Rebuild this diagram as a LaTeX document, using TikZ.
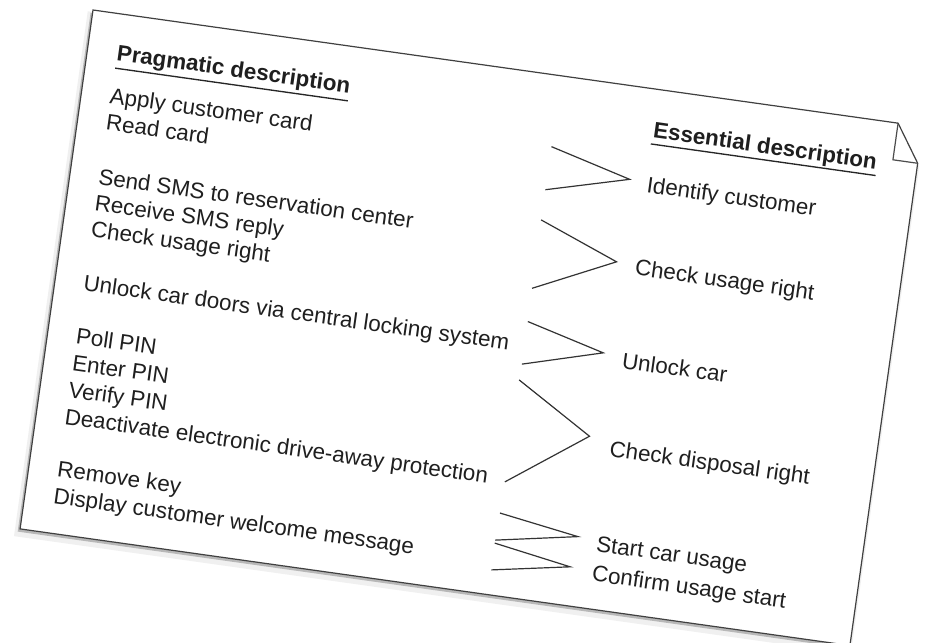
\documentclass[tikz,border=0pt]{standalone}
\usepackage{fontspec}
\setmainfont{Liberation Sans}
\begin{document}
\begin{tikzpicture}[x=0.75pt,y=-0.75pt]
\tikzset{
  txt/.style={anchor=base west, inner sep=0pt, outer sep=0pt, text=black!88, font=\fontsize{16.8}{20}\selectfont},
  head/.style={txt, font=\fontsize{16.8}{20}\selectfont\bfseries},
  conn/.style={draw=black!80, line width=0.9pt, line join=miter},
  uline/.style={draw=black!85, line width=1pt},
  notebox/.style={draw=black!75, line width=0.9pt, fill=white, line join=miter},
  shadowbox/.style={fill=black!28},
}
\useasboundingbox (0,0) rectangle (926,643);
\fill[white] (0,0) rectangle (926,643);
\begin{scope}[shift={(93,10)}, rotate=-8, transform shape]
  % shadow and note
  \fill[black!6] (-5,2) -- (813,2) -- (840,40) -- (840,532) -- (-5,532) -- cycle;
  \path[shadowbox] (-2,3) -- (811,3) -- (836,40) -- (836,527) -- (-2,527) -- cycle;
  \path[notebox] (0,0) coordinate (tl) -- (813,0) coordinate (fa) -- (838,37) coordinate (fb)
     -- (838,524) coordinate (br) -- (0,524) coordinate (bl) -- cycle;
  \coordinate (fc) at (813,37);
  \draw[draw=black!70, line width=0.9pt] (fa) -- (fc) -- (fb);

  % headers
  \node[head] (prag) at (30,46.5) {Pragmatic description};
  \coordinate (pu1) at (30,54.5); \coordinate (pu2) at (265,54.5);
  \draw[uline] (pu1) -- (pu2);
  \node[head] (ess) at (572,48.5) {Essential description};
  \coordinate (eu1) at (571,55); \coordinate (eu2) at (798,55);
  \draw[uline] (eu1) -- (eu2);

  % pragmatic description
  \node[txt] (p1)  at (29,90)  {Apply customer card};
  \node[txt] (p2)  at (29,117) {Read card};
  \node[txt] (p3)  at (29,172) {Send SMS to reservation center};
  \node[txt] (p4)  at (29,198.5) {Receive SMS reply};
  \node[txt] (p5)  at (29,225) {Check usage right};
  \node[txt] (p6)  at (29,279) {Unlock car doors via central locking system};
  \node[txt] (p7)  at (29,333) {Poll PIN};
  \node[txt] (p8)  at (29,360) {Enter PIN};
  \node[txt] (p9)  at (29,387) {Verify PIN};
  \node[txt] (p10) at (29,414) {Deactivate electronic drive-away protection};
  \node[txt] (p11) at (29,467) {Remove key};
  \node[txt] (p12) at (29,494) {Display customer welcome message};

  % essential description
  \node[txt] (e1) at (573,103.5) {Identify customer};
  \node[txt] (e2) at (573,187)   {Check usage right};
  \node[txt] (e3) at (573,281)   {Unlock car};
  \node[txt] (e4) at (573,370)   {Check disposal right};
  \node[txt] (e5) at (573,466)   {Start car usage};
  \node[txt] (e6) at (573,496)   {Confirm usage start};

  % connectors
  \coordinate (c1a) at (473,71.5);  \coordinate (c1b) at (555,93);    \coordinate (c1c) at (473,115);
  \coordinate (c2a) at (473,145.5); \coordinate (c2b) at (553.5,176.5); \coordinate (c2c) at (473.5,214.5);
  \coordinate (c3a) at (474,248);   \coordinate (c3b) at (553,268.5); \coordinate (c3c) at (474,291);
  \coordinate (c4a) at (473.5,307); \coordinate (c4b) at (551,353);   \coordinate (c4c) at (473.5,410);
  \coordinate (c5a) at (473,441.5); \coordinate (c5b) at (553.5,454); \coordinate (c5c) at (472,469);
  \coordinate (c6a) at (472,472);   \coordinate (c6b) at (550,485);   \coordinate (c6c) at (472.5,499);
  \draw[conn] (c1a) -- (c1b) -- (c1c);
  \draw[conn] (c2a) -- (c2b) -- (c2c);
  \draw[conn] (c3a) -- (c3b) -- (c3c);
  \draw[conn] (c4a) -- (c4b) -- (c4c);
  \draw[conn] (c5a) -- (c5b) -- (c5c);
  \draw[conn] (c6a) -- (c6b) -- (c6c);
\end{scope}
\end{tikzpicture}
\end{document}
